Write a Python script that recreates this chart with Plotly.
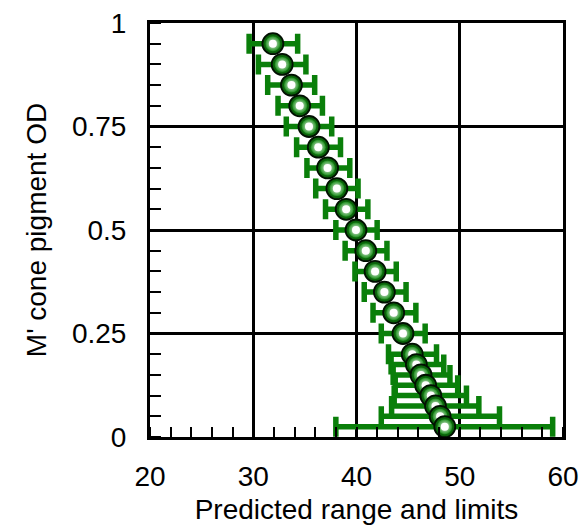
import plotly.graph_objects as go

# M' cone pigment optical density levels
od = [0.95, 0.90, 0.85, 0.80, 0.75, 0.70, 0.65, 0.60, 0.55, 0.50, 0.45, 0.40,
      0.35, 0.30, 0.25, 0.20, 0.175, 0.15, 0.125, 0.10, 0.075, 0.05, 0.025]

# predicted value (centre) with lower and upper limits
predicted = [31.9, 32.8, 33.7, 34.5, 35.4, 36.3, 37.2, 38.1, 39.0, 39.95, 40.9,
             41.8, 42.7, 43.6, 44.5, 45.4, 45.8, 46.25, 46.7, 47.2, 47.65, 48.1, 48.55]
lower = [29.6, 30.5, 31.4, 32.4, 33.2, 34.2, 35.2, 36.05, 37.0, 38.0, 38.9,
         39.85, 40.75, 41.6, 42.4, 43.1, 43.35, 43.55, 43.75, 43.65, 43.4, 42.4, 38.0]
upper = [34.3, 35.1, 35.95, 36.7, 37.6, 38.45, 39.35, 40.15, 41.1, 42.0, 42.95,
         43.85, 44.8, 45.75, 46.65, 47.75, 48.45, 49.05, 49.8, 50.65, 51.85, 53.85, 59.0]

x_ticks = [20, 30, 40, 50, 60]
y_ticks = [0, 0.25, 0.5, 0.75, 1]
y_ticktext = ["0", "0.25", "0.5", "0.75", "1"]

err_plus = [u - p for u, p in zip(upper, predicted)]
err_minus = [p - l for p, l in zip(predicted, lower)]

GREEN = "#0a7f0a"
FONT = "Liberation Sans, Arial, sans-serif"

fig = go.Figure()
# range bars (drawn first so every sphere sits on top of them)
fig.add_trace(go.Scatter(
    x=predicted, y=od, mode="markers",
    error_x=dict(type="data", symmetric=False, array=err_plus, arrayminus=err_minus,
                 color=GREEN, thickness=5.5, width=10),
    marker=dict(size=1, color="rgba(0,0,0,0)"),
    cliponaxis=False, showlegend=False, hoverinfo="skip",
))

# glossy spheres, one stack per point so lower spheres overlap the ones above
for xv, yv in zip(predicted, od):
    fig.add_trace(go.Scatter(
        x=[xv], y=[yv], mode="markers",
        marker=dict(size=21, color="#055805",
                    gradient=dict(type="radial", color="#1f8f1f"),
                    line=dict(color="#021002", width=1.8)),
        cliponaxis=False, showlegend=False,
    ))
    fig.add_trace(go.Scatter(
        x=[xv], y=[yv], mode="markers",
        marker=dict(size=15, color="#1f8f1f",
                    gradient=dict(type="radial", color="#ffffff"),
                    line=dict(width=0)),
        cliponaxis=False, showlegend=False, hoverinfo="skip",
    ))
    fig.add_trace(go.Scatter(
        x=[xv], y=[yv], mode="markers",
        marker=dict(size=8, color="#ffffff", line=dict(width=0)),
        cliponaxis=False, showlegend=False, hoverinfo="skip",
    ))

axis_common = dict(
    showline=True, linecolor="black", linewidth=3, mirror=True,
    showgrid=True, gridcolor="black", gridwidth=2.5,
    zeroline=False, ticks="", automargin=False,
    tickfont=dict(family=FONT, size=28, color="black"),
)

fig.update_xaxes(
    range=[20, 60], tickvals=x_ticks, ticktext=[str(v) for v in x_ticks],
    ticklabelstandoff=12,
    minor=dict(dtick=2, tick0=20, ticks="inside", ticklen=10, tickwidth=2,
               tickcolor="black", showgrid=False),
    title=dict(text="Predicted range and limits",
               font=dict(family=FONT, size=28, color="black"), standoff=10),
    **axis_common,
)
fig.update_yaxes(
    range=[0, 1], tickvals=y_ticks, ticktext=y_ticktext,
    ticklabelstandoff=15,
    minor=dict(dtick=0.05, tick0=0, ticks="inside", ticklen=11, tickwidth=2,
               tickcolor="black", showgrid=False),
    title=dict(text="M' cone pigment OD",
               font=dict(family=FONT, size=28, color="black"), standoff=18),
    **axis_common,
)

fig.update_layout(
    width=582, height=525,
    margin=dict(l=150, r=19, t=23, b=88),
    paper_bgcolor="white", plot_bgcolor="white",
)

fig.write_html("out.html")
